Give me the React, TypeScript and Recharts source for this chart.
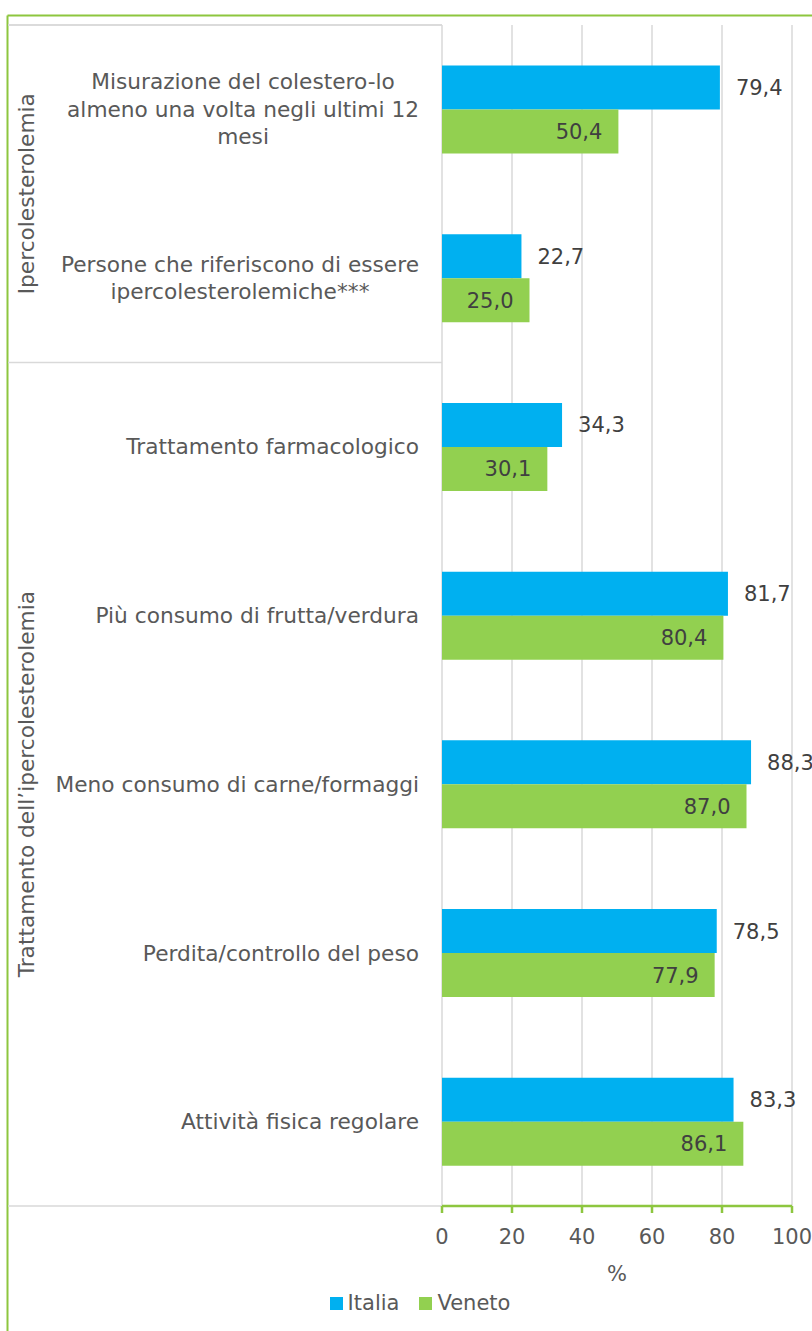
import { BarChart, Bar, XAxis, YAxis, CartesianGrid, LabelList, Label } from "recharts";

const categories = [
  "Misurazione del colestero-lo\nalmeno una volta negli ultimi 12\nmesi",
  "Persone che riferiscono di essere\nipercolesterolemiche***",
  "Trattamento farmacologico",
  "Più consumo di frutta/verdura",
  "Meno consumo di carne/formaggi",
  "Perdita/controllo del peso",
  "Attività fisica regolare",
];
const italia = [79.4, 22.7, 34.3, 81.7, 88.3, 78.5, 83.3];
const veneto = [50.4, 25.0, 30.1, 80.4, 87.0, 77.9, 86.1];
const groupNames = ["Ipercolesterolemia", "Trattamento dell’ipercolesterolemia"];
const groupSizes = [2, 5];
const xTicks = [0, 20, 40, 60, 80, 100];

const data = categories.map((name, i) => ({ name, Italia: italia[i], Veneto: veneto[i] }));

const W = 812;
const H = 1331;
const PLOT_TOP = 25;
const PLOT_BOTTOM = 1206;
const PLOT_LEFT = 442;
const FONT = "DejaVu Sans";
const FS = 21;
const CAT_FS = 21.7;
const BLUE = "#00B0F0";
const GREEN = "#92D050";
const BORDER = "#8DC63F";
const GRID = "#D9D9D9";
const TEXT = "#595959";

let ctx: CanvasRenderingContext2D | null = null;
function textWidth(s: string) {
  if (!ctx) ctx = document.createElement("canvas").getContext("2d");
  if (!ctx) return s.length * CAT_FS * 0.55;
  ctx.font = `${CAT_FS}px "${FONT}"`;
  return ctx.measureText(s).width;
}

const fmt = (v: number) => v.toFixed(1).replace(".", ",");

function CategoryTick(props: any) {
  const { y, payload, index } = props;
  const lines = String(payload.value).split("\n");
  const lh = 27.5;
  const maxW = Math.max(...lines.map(textWidth));
  const cx = 419 - maxW / 2;
  const band = (PLOT_BOTTOM - PLOT_TOP) / categories.length;

  // group label + separator on the first category of each group
  let start = 0;
  let groupEl = null;
  groupSizes.forEach((size, g) => {
    if (index === start) {
      const top = y - band / 2;
      const mid = top + (band * size) / 2;
      groupEl = (
        <g>
          <line x1={8} x2={PLOT_LEFT} y1={top} y2={top} stroke={GRID} strokeWidth={1.5} />
          <text
            x={27}
            y={mid}
            transform={`rotate(-90 27 ${mid})`}
            textAnchor="middle"
            dominantBaseline="central"
            fill={TEXT}
            fontSize={CAT_FS}
            fontFamily={FONT}
          >
            {groupNames[g]}
          </text>
        </g>
      );
    }
    start += size;
  });

  return (
    <g>
      {groupEl}
      <text textAnchor="middle" fill={TEXT} fontSize={CAT_FS} fontFamily={FONT}>
        {lines.map((ln, i) => (
          <tspan key={i} x={cx} y={y + (i - (lines.length - 1) / 2) * lh} dy="0.35em">
            {ln}
          </tspan>
        ))}
      </text>
    </g>
  );
}

export default function App() {
  return (
    <div style={{ position: "absolute", left: 0, top: 0, width: W, height: H, background: "#fff" }}>
      <svg width={W} height={H} style={{ position: "absolute", left: 0, top: 0 }}>
        <line x1={7.5} x2={W} y1={15.5} y2={15.5} stroke={BORDER} strokeWidth={2} />
        <line x1={7.5} x2={7.5} y1={15.5} y2={H} stroke={BORDER} strokeWidth={2} />
        <line x1={8} x2={PLOT_LEFT} y1={PLOT_BOTTOM} y2={PLOT_BOTTOM} stroke={GRID} strokeWidth={1.5} />
        <line x1={8} x2={PLOT_LEFT} y1={PLOT_TOP} y2={PLOT_TOP} stroke={GRID} strokeWidth={1.5} />
      </svg>
      <div style={{ position: "absolute", left: 0, top: 0 }}>
        <BarChart
          width={W}
          height={H}
          data={data}
          layout="vertical"
          margin={{ top: PLOT_TOP, right: 20, left: 0, bottom: H - PLOT_BOTTOM - 80 }}
          barCategoryGap="24%"
          barGap={0}
        >
          <CartesianGrid horizontal={false} stroke={GRID} strokeWidth={1.5} />
          <XAxis
            type="number"
            domain={[0, 100]}
            ticks={xTicks}
            height={80}
            axisLine={{ stroke: BORDER, strokeWidth: 2.5 }}
            tickLine={{ stroke: BORDER, strokeWidth: 2.5 }}
            tickSize={7}
            tickMargin={16}
            tick={{ fill: TEXT, fontSize: FS, fontFamily: FONT }}
          >
            <Label value="%" position="insideBottom" offset={5} fill={TEXT} fontSize={FS} fontFamily={FONT} />
          </XAxis>
          <YAxis
            type="category"
            dataKey="name"
            width={PLOT_LEFT}
            axisLine={false}
            tickLine={false}
            interval={0}
            tick={<CategoryTick />}
          />
          <Bar dataKey="Italia" fill={BLUE} isAnimationActive={false}>
            <LabelList
              dataKey="Italia"
              position="right"
              offset={16}
              formatter={(v: any) => fmt(Number(v))}
              fill="#404040"
              fontSize={FS}
              fontFamily={FONT}
            />
          </Bar>
          <Bar dataKey="Veneto" fill={GREEN} isAnimationActive={false}>
            <LabelList
              dataKey="Veneto"
              position="insideRight"
              offset={16}
              formatter={(v: any) => fmt(Number(v))}
              fill="#404040"
              fontSize={FS}
              fontFamily={FONT}
            />
          </Bar>
        </BarChart>
      </div>
      <div
        style={{
          position: "absolute",
          top: 1290,
          left: 0,
          width: 840,
          display: "flex",
          justifyContent: "center",
          gap: 20,
          fontFamily: FONT,
          fontSize: FS,
          color: TEXT,
          lineHeight: "26px",
        }}
      >
        {[
          ["Italia", BLUE],
          ["Veneto", GREEN],
        ].map(([name, color]) => (
          <div key={name} style={{ display: "flex", alignItems: "center", gap: 5 }}>
            <span style={{ width: 13, height: 13, background: color, display: "inline-block" }} />
            <span>{name}</span>
          </div>
        ))}
      </div>
    </div>
  );
}
